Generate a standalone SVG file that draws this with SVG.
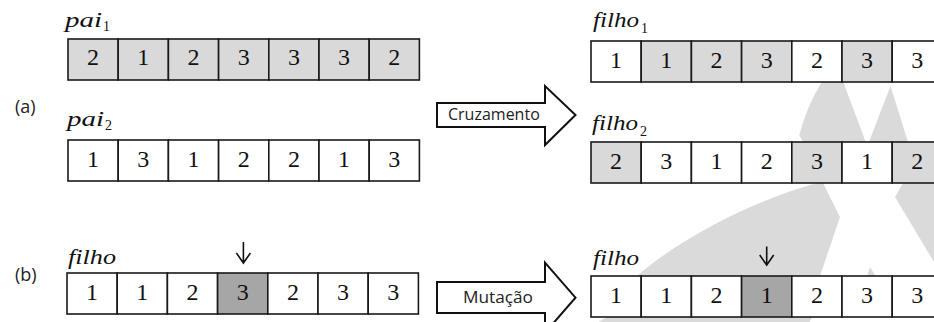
<svg xmlns="http://www.w3.org/2000/svg" width="934" height="322" viewBox="0 0 934 322">
<defs>
<style>
.cell{stroke:#1a1a1a;stroke-width:1.6}
.w{fill:#ffffff}
.g{fill:#d9d9d9}
.d{fill:#a6a6a6}
.num{font-family:"Liberation Serif","Times New Roman",serif;font-size:24px;fill:#111;text-anchor:middle}
.lab{font-family:"Liberation Serif","Times New Roman",serif;font-style:italic;font-size:21px;fill:#111}
.sub{font-family:"Liberation Serif","Times New Roman",serif;font-size:14px;fill:#111}
.sans{font-family:"Open Sans","Liberation Sans",sans-serif;fill:#222}
.arrow{fill:#ffffff;stroke:#111;stroke-width:2;stroke-linejoin:miter}
.wm{fill:#dadada}
.down{fill:none;stroke:#111;stroke-width:1.6}
</style>
</defs>
<rect width="934" height="322" fill="#ffffff"/>
<g id="watermark">
<path class="wm" d="M821.7,82 L843.3,82 L865.7,142 L803,142 L799.3,135 Q806,108 821.7,82 Z"/>
<path class="wm" d="M890.5,86 L908,142 L869,142 Z"/>
<path class="wm" d="M818,183 L823,183 L840,217 L820,276 L812,317 L806,330 L585,330 L607,317 L637,276 C690,230 770,195 818,183 Z"/>
<path class="wm" d="M903,183 L934,183 L934,262 L895,197 Z"/>
<path class="wm" d="M870,267 L878,280 L866,280 Z"/>
</g>
<g id="label-a"><text class="sans" x="15" y="113" font-size="18">(a)</text></g>
<g id="label-b"><text class="sans" x="15" y="281" font-size="18">(b)</text></g>
<g id="pai1">
<text class="lab" x="65" y="27" textLength="37" lengthAdjust="spacingAndGlyphs">pai</text><text class="sub" x="103" y="31">1</text>
<rect class="cell g" x="68" y="39" width="50.2" height="41"/><rect class="cell g" x="118.2" y="39" width="50.2" height="41"/><rect class="cell g" x="168.4" y="39" width="50.2" height="41"/><rect class="cell g" x="218.6" y="39" width="50.2" height="41"/><rect class="cell g" x="268.8" y="39" width="50.2" height="41"/><rect class="cell g" x="319" y="39" width="50.2" height="41"/><rect class="cell g" x="369.2" y="39" width="50.2" height="41"/>
<text class="num" x="93.1" y="65">2</text><text class="num" x="143.3" y="65">1</text><text class="num" x="193.5" y="65">2</text><text class="num" x="243.7" y="65">3</text><text class="num" x="293.9" y="65">3</text><text class="num" x="344.1" y="65">3</text><text class="num" x="394.3" y="65">2</text>
</g>
<g id="pai2">
<text class="lab" x="67" y="126" textLength="37" lengthAdjust="spacingAndGlyphs">pai</text><text class="sub" x="105" y="130">2</text>
<rect class="cell w" x="68" y="140" width="50.2" height="41"/><rect class="cell w" x="118.2" y="140" width="50.2" height="41"/><rect class="cell w" x="168.4" y="140" width="50.2" height="41"/><rect class="cell w" x="218.6" y="140" width="50.2" height="41"/><rect class="cell w" x="268.8" y="140" width="50.2" height="41"/><rect class="cell w" x="319" y="140" width="50.2" height="41"/><rect class="cell w" x="369.2" y="140" width="50.2" height="41"/>
<text class="num" x="93.1" y="167">1</text><text class="num" x="143.3" y="167">3</text><text class="num" x="193.5" y="167">1</text><text class="num" x="243.7" y="167">2</text><text class="num" x="293.9" y="167">2</text><text class="num" x="344.1" y="167">1</text><text class="num" x="394.3" y="167">3</text>
</g>
<g id="filho-b-left">
<text class="lab" x="68" y="264" textLength="48" lengthAdjust="spacingAndGlyphs">filho</text>
<rect class="cell w" x="67" y="273" width="50.2" height="41"/><rect class="cell w" x="117.2" y="273" width="50.2" height="41"/><rect class="cell w" x="167.4" y="273" width="50.2" height="41"/><rect class="cell d" x="217.6" y="273" width="50.2" height="41"/><rect class="cell w" x="267.8" y="273" width="50.2" height="41"/><rect class="cell w" x="318" y="273" width="50.2" height="41"/><rect class="cell w" x="368.2" y="273" width="50.2" height="41"/>
<text class="num" x="92.1" y="300">1</text><text class="num" x="142.3" y="300">1</text><text class="num" x="192.5" y="300">2</text><text class="num" x="242.7" y="300">3</text><text class="num" x="292.9" y="300">2</text><text class="num" x="343.1" y="300">3</text><text class="num" x="393.3" y="300">3</text>
</g>
<g id="filho1">
<text class="lab" x="593" y="27" textLength="46" lengthAdjust="spacingAndGlyphs">filho</text><text class="sub" x="641" y="32.5">1</text>
<rect class="cell w" x="591" y="41" width="50.2" height="41"/><rect class="cell g" x="641.2" y="41" width="50.2" height="41"/><rect class="cell g" x="691.4" y="41" width="50.2" height="41"/><rect class="cell g" x="741.6" y="41" width="50.2" height="41"/><rect class="cell w" x="791.8" y="41" width="50.2" height="41"/><rect class="cell g" x="842" y="41" width="50.2" height="41"/><rect class="cell w" x="892.2" y="41" width="50.2" height="41"/>
<text class="num" x="616.1" y="68">1</text><text class="num" x="666.3" y="68">1</text><text class="num" x="716.5" y="68">2</text><text class="num" x="766.7" y="68">3</text><text class="num" x="816.9" y="68">2</text><text class="num" x="867.1" y="68">3</text><text class="num" x="917.3" y="68">3</text>
</g>
<g id="filho2">
<text class="lab" x="592" y="130" textLength="46" lengthAdjust="spacingAndGlyphs">filho</text><text class="sub" x="640" y="135.5">2</text>
<rect class="cell g" x="591" y="142" width="50.2" height="41"/><rect class="cell w" x="641.2" y="142" width="50.2" height="41"/><rect class="cell w" x="691.4" y="142" width="50.2" height="41"/><rect class="cell w" x="741.6" y="142" width="50.2" height="41"/><rect class="cell g" x="791.8" y="142" width="50.2" height="41"/><rect class="cell w" x="842" y="142" width="50.2" height="41"/><rect class="cell g" x="892.2" y="142" width="50.2" height="41"/>
<text class="num" x="616.1" y="169">2</text><text class="num" x="666.3" y="169">3</text><text class="num" x="716.5" y="169">1</text><text class="num" x="766.7" y="169">2</text><text class="num" x="816.9" y="169">3</text><text class="num" x="867.1" y="169">1</text><text class="num" x="917.3" y="169">2</text>
</g>
<g id="filho-b-right">
<text class="lab" x="593" y="265" textLength="46" lengthAdjust="spacingAndGlyphs">filho</text>
<rect class="cell w" x="591" y="276" width="50.2" height="41"/><rect class="cell w" x="641.2" y="276" width="50.2" height="41"/><rect class="cell w" x="691.4" y="276" width="50.2" height="41"/><rect class="cell d" x="741.6" y="276" width="50.2" height="41"/><rect class="cell w" x="791.8" y="276" width="50.2" height="41"/><rect class="cell w" x="842" y="276" width="50.2" height="41"/><rect class="cell w" x="892.2" y="276" width="50.2" height="41"/>
<text class="num" x="616.1" y="303">1</text><text class="num" x="666.3" y="303">1</text><text class="num" x="716.5" y="303">2</text><text class="num" x="766.7" y="303">1</text><text class="num" x="816.9" y="303">2</text><text class="num" x="867.1" y="303">3</text><text class="num" x="917.3" y="303">3</text>
</g>
<g id="connectors">
<g id="arrow-cruzamento">
<path class="arrow" d="M437,103 L545,103 L545,86 L575.5,115 L545,145 L545,127 L437,127 Z"/>
<text class="sans" x="448" y="119.5" font-size="16">Cruzamento</text>
</g>
<g id="arrow-mutacao">
<path class="arrow" d="M437,282 L545,282 L545,262.7 L575.5,297.7 L545,332.7 L545,313 L437,313 Z"/>
<text class="sans" x="463" y="303" font-size="16" textLength="70" lengthAdjust="spacingAndGlyphs">Mutação</text>
</g>
<path class="down" d="M243.4,242 L243.4,263 M236.4,253 L243.4,263 L250.4,253"/>
<path class="down" d="M766.7,246.5 L766.7,265 M759.7,255 L766.7,265 L773.7,255"/>
</g>
</svg>
